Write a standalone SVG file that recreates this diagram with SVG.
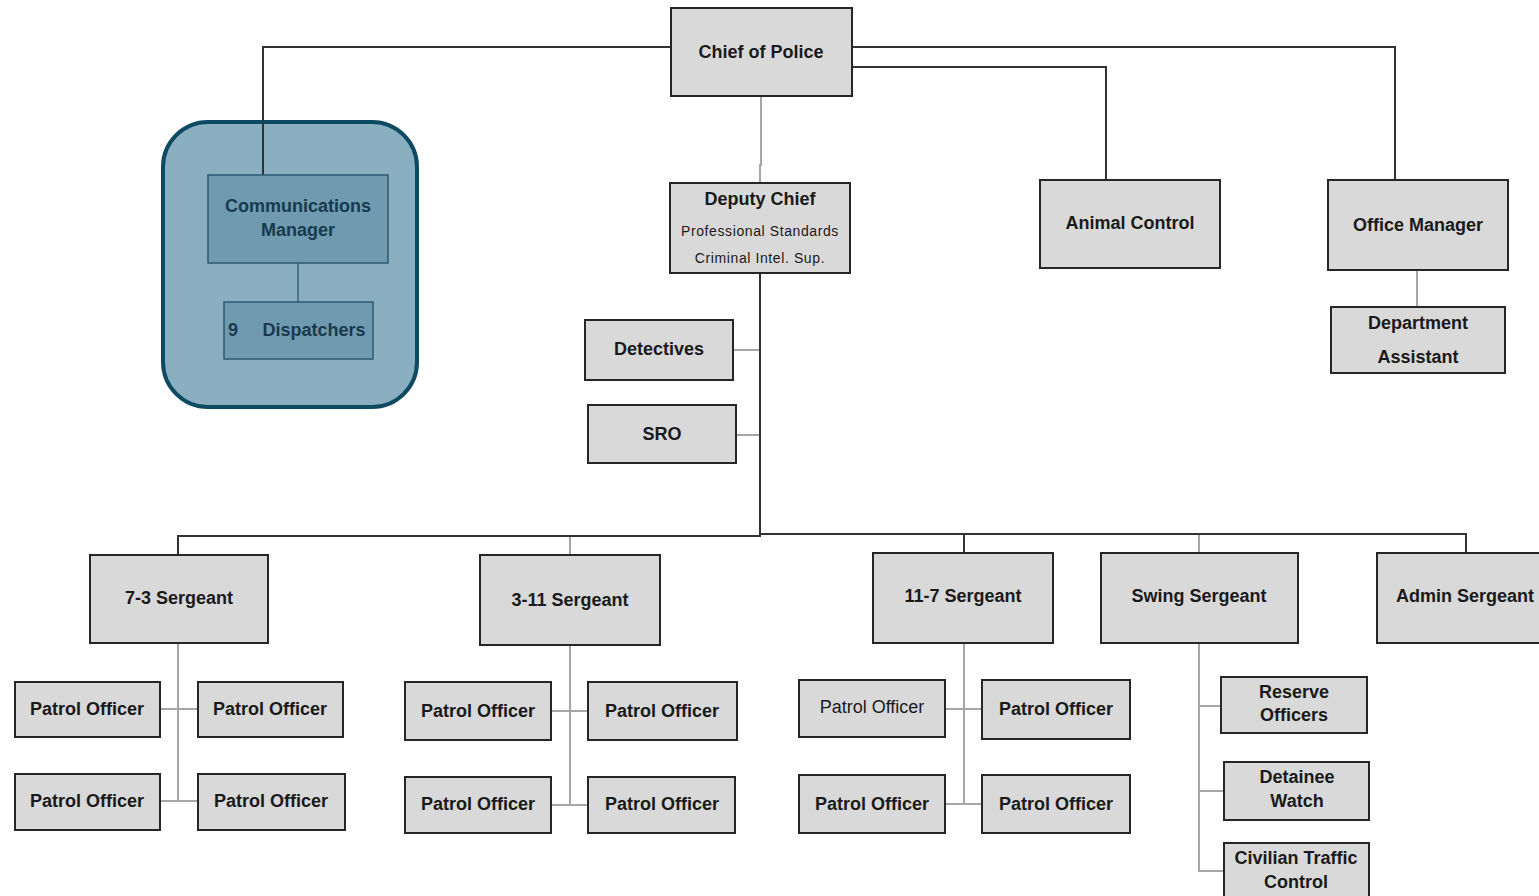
<svg xmlns="http://www.w3.org/2000/svg" width="1539" height="896" viewBox="0 0 1539 896">
<style>
.b{fill:#d9d9d9;stroke:#262626;stroke-width:2}
.t{font-family:"Liberation Sans",Arial,sans-serif;font-weight:bold;font-size:18px;fill:#1a1a1a;text-anchor:middle}
.n{font-weight:normal}
.s{font-family:"Liberation Sans",Arial,sans-serif;font-size:14px;letter-spacing:0.6px;fill:#1a1a1a;text-anchor:middle}
.d{fill:none;stroke:#333;stroke-width:2}
.g{fill:none;stroke:#a6a6a6;stroke-width:2}
.cb{fill:#6f9ab0;stroke:#2d5a70;stroke-width:1.5}
.ct{font-family:"Liberation Sans",Arial,sans-serif;font-weight:bold;font-size:18px;fill:#173a4e;text-anchor:middle}
</style>
<rect width="1539" height="896" fill="#fff"/>
<g id="comm-group"><rect x="163" y="122" width="254" height="285" rx="45" fill="#8aafc1" stroke="#0f4a63" stroke-width="4"/></g>
<g id="connectors">
<path class="d" d="M671 47 H263 V175"/>
<path class="d" d="M852 47 H1395 V180"/>
<path class="d" d="M852 67 H1106 V180"/>
<path class="g" d="M761 96 V165 H760 V183"/>
<path class="d" d="M760 273 V536 H178 V555"/>
<path class="d" d="M760 534 H1466 V553"/>
<path class="d" d="M964 534 V553"/>
<path class="g" d="M570 537 V555"/>
<path class="g" d="M1199 535 V553"/>
<path class="g" d="M733 350 H759"/>
<path class="g" d="M736 435 H759"/>
<path class="g" d="M1417 270 V307"/>
<path d="M298 263 V302" fill="none" stroke="#4c7488" stroke-width="2"/>
<path class="g" d="M178 643 V801 M160 709 H198 M160 801 H198"/>
<path class="g" d="M570 645 V805 M551 711 H588 M551 805 H588"/>
<path class="g" d="M964 643 V805 M945 709 H982 M945 804 H982"/>
<path class="g" d="M1199 643 V871 H1224 M1199 706 H1221 M1199 791 H1224"/>
</g>
<g id="chief"><rect class="b" x="671" y="8" width="181" height="88"/><text class="t" x="761" y="58">Chief of Police</text></g>
<g id="deputy"><rect class="b" x="670" y="183" width="180" height="90"/><text class="t" x="760" y="205">Deputy Chief</text><text class="s" x="760" y="236">Professional Standards</text><text class="s" x="760" y="263">Criminal Intel. Sup.</text></g>
<g id="animal"><rect class="b" x="1040" y="180" width="180" height="88"/><text class="t" x="1130" y="229">Animal Control</text></g>
<g id="office"><rect class="b" x="1328" y="180" width="180" height="90"/><text class="t" x="1418" y="231">Office Manager</text></g>
<g id="deptasst"><rect class="b" x="1331" y="307" width="174" height="66"/><text class="t" x="1418" y="329">Department</text><text class="t" x="1418" y="363">Assistant</text></g>
<g id="commmgr"><rect class="cb" x="208" y="175" width="180" height="88"/><text class="ct" x="298" y="212">Communications</text><text class="ct" x="298" y="236">Manager</text></g>
<g id="dispatch"><rect class="cb" x="224" y="302" width="149" height="57"/><text class="ct" x="228" y="336" style="text-anchor:start">9</text><text class="ct" x="314" y="336">Dispatchers</text></g>
<g id="detectives"><rect class="b" x="585" y="320" width="148" height="60"/><text class="t" x="659" y="355">Detectives</text></g>
<g id="sro"><rect class="b" x="588" y="405" width="148" height="58"/><text class="t" x="662" y="440">SRO</text></g>
<g id="sgt73"><rect class="b" x="90" y="555" width="178" height="88"/><text class="t" x="179" y="604">7-3 Sergeant</text></g>
<g id="sgt311"><rect class="b" x="480" y="555" width="180" height="90"/><text class="t" x="570" y="606">3-11 Sergeant</text></g>
<g id="sgt117"><rect class="b" x="873" y="553" width="180" height="90"/><text class="t" x="963" y="602">11-7 Sergeant</text></g>
<g id="sgtswing"><rect class="b" x="1101" y="553" width="197" height="90"/><text class="t" x="1199" y="602">Swing Sergeant</text></g>
<g id="sgtadmin"><rect class="b" x="1377" y="553" width="170" height="90"/><text class="t" x="1465" y="602">Admin Sergeant</text></g>
<g id="po1"><rect class="b" x="15" y="682" width="145" height="55"/><text class="t" x="87" y="715">Patrol Officer</text></g>
<g id="po2"><rect class="b" x="198" y="682" width="145" height="55"/><text class="t" x="270" y="715">Patrol Officer</text></g>
<g id="po3"><rect class="b" x="15" y="774" width="145" height="56"/><text class="t" x="87" y="807">Patrol Officer</text></g>
<g id="po4"><rect class="b" x="198" y="774" width="147" height="56"/><text class="t" x="271" y="807">Patrol Officer</text></g>
<g id="po5"><rect class="b" x="405" y="682" width="146" height="58"/><text class="t" x="478" y="717">Patrol Officer</text></g>
<g id="po6"><rect class="b" x="588" y="682" width="149" height="58"/><text class="t" x="662" y="717">Patrol Officer</text></g>
<g id="po7"><rect class="b" x="405" y="777" width="146" height="56"/><text class="t" x="478" y="810">Patrol Officer</text></g>
<g id="po8"><rect class="b" x="588" y="777" width="147" height="56"/><text class="t" x="662" y="810">Patrol Officer</text></g>
<g id="po9"><rect class="b" x="799" y="680" width="146" height="57"/><text class="t n" x="872" y="713">Patrol Officer</text></g>
<g id="po10"><rect class="b" x="982" y="680" width="148" height="59"/><text class="t" x="1056" y="715">Patrol Officer</text></g>
<g id="po11"><rect class="b" x="799" y="775" width="146" height="58"/><text class="t" x="872" y="810">Patrol Officer</text></g>
<g id="po12"><rect class="b" x="982" y="775" width="148" height="58"/><text class="t" x="1056" y="810">Patrol Officer</text></g>
<g id="reserve"><rect class="b" x="1221" y="677" width="146" height="56"/><text class="t" x="1294" y="698">Reserve</text><text class="t" x="1294" y="721">Officers</text></g>
<g id="detainee"><rect class="b" x="1224" y="762" width="145" height="58"/><text class="t" x="1297" y="783">Detainee</text><text class="t" x="1297" y="807">Watch</text></g>
<g id="civilian"><rect class="b" x="1224" y="843" width="145" height="60"/><text class="t" x="1296" y="864">Civilian Traffic</text><text class="t" x="1296" y="888">Control</text></g>
</svg>
